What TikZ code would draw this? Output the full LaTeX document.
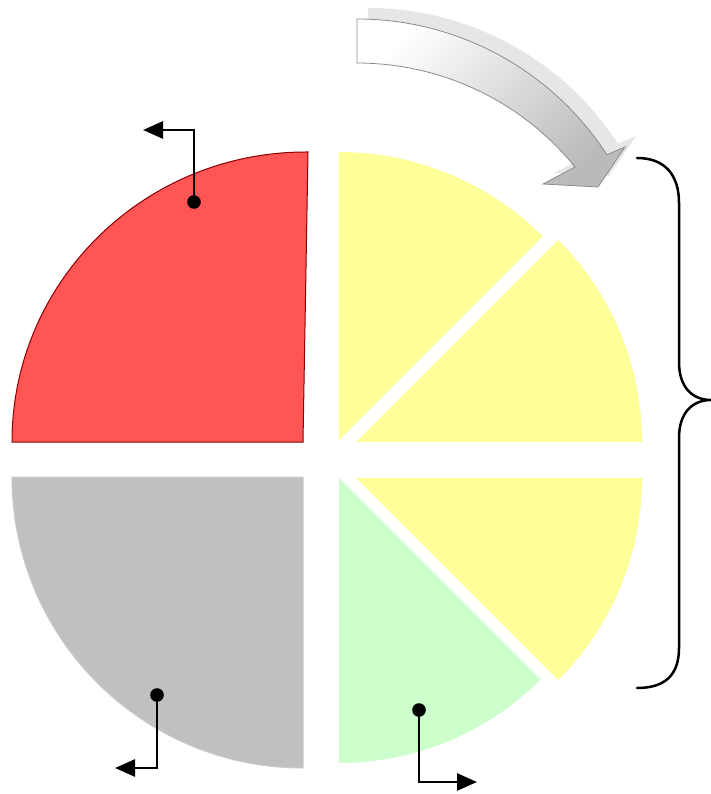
\documentclass[tikz,border=0pt]{standalone}
\usetikzlibrary{arrows.meta}
\definecolor{redfill}{HTML}{FF5555}
\definecolor{redline}{HTML}{8B0000}
\definecolor{grayfill}{HTML}{C0C0C0}
\definecolor{grayline}{HTML}{CACACA}
\definecolor{yellowfill}{HTML}{FFFF99}
\definecolor{greenfill}{HTML}{CCFFCC}
\definecolor{shadowgray}{HTML}{E6E6E6}
\definecolor{arrowline}{HTML}{8C8C8C}
\tikzset{
  conn/.style={line width=2.7pt,-{Triangle[length=20pt,width=17pt]}},
  dotmark/.style={fill=black},
  bracestyle/.style={line width=2.5pt,line cap=round},
}
\begin{document}
\begin{tikzpicture}[x=1pt,y=-1pt]
\useasboundingbox (0,0) rectangle (711,794);
% sectors
\fill[redfill,draw=redline,line width=1pt] (12,442) arc[start angle=180,end angle=90,x radius=294pt,y radius=290pt] -- (308,152) -- (303,442) -- cycle;
\fill[grayfill,draw=grayline,line width=1pt] (303,477) -- (12,477) arc[start angle=180,end angle=270,radius=291pt] -- cycle;
\fill[yellowfill] (339,440) -- (339,152) arc[start angle=90,end angle=45,radius=288pt] -- cycle;
\fill[yellowfill] (356,442) -- (642,442) arc[start angle=0,end angle=45,radius=286pt] -- cycle;
\fill[yellowfill] (356,478) -- (642,478) arc[start angle=0,end angle=-45,radius=286pt] -- cycle;
\fill[greenfill] (339,478) -- (339,763) arc[start angle=270,end angle=315,radius=285pt] -- cycle;
% curved arrow shadow
\fill[shadowgray] (368,8) arc[start angle=90,end angle=33,radius=298pt] -- (636,136) -- (609,176) -- (554,173) -- (586,156) arc[start angle=39,end angle=90,radius=280.5pt] -- cycle;
% curved arrow
\shade[top color=white,bottom color=black!27,shading angle=45,draw=arrowline,line width=0.8pt] (357,19) arc[start angle=90,end angle=33,radius=298pt] -- (625,147) -- (598,187) -- (543,184) -- (575,167) arc[start angle=39,end angle=90,radius=280.5pt] -- cycle;
% brace
\coordinate (btop) at (637,158);
\coordinate (btip) at (711,400);
\coordinate (bbot) at (637,688);
\draw[bracestyle] (btop) .. controls (665,158) and (679,175) .. (679,203) -- (679,362) .. controls (679,388) and (693,400) .. (btip) .. controls (693,400) and (679,412) .. (679,438) -- (679,648) .. controls (679,675) and (665,688) .. (bbot);
% connectors
\coordinate (rdot) at (194,202);
\coordinate (rend) at (143,130);
\coordinate (gdot) at (157,695);
\coordinate (gend) at (115,768);
\coordinate (ndot) at (419,710);
\coordinate (nend) at (477,782);
\draw[conn] (rdot) |- (rend);
\draw[conn] (gdot) |- (gend);
\draw[conn] (ndot) |- (nend);
\fill[dotmark] (rdot) circle (6.8pt);
\fill[dotmark] (gdot) circle (6.8pt);
\fill[dotmark] (ndot) circle (6.8pt);
\end{tikzpicture}
\end{document}
